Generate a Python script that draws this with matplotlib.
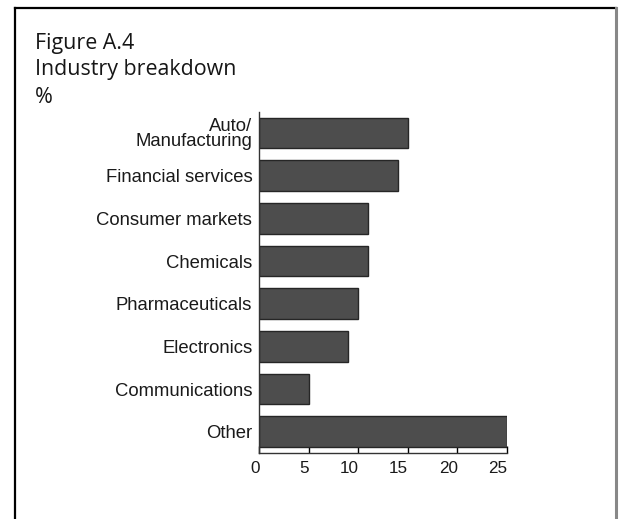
import matplotlib
matplotlib.use("Agg")
import matplotlib.pyplot as plt
from matplotlib.lines import Line2D
from matplotlib.transforms import ScaledTranslation

# Industry shares (%)
categories = ["Auto/\nManufacturing", "Financial services", "Consumer markets",
              "Chemicals", "Pharmaceuticals", "Electronics", "Communications", "Other"]
shares = [15, 14, 11, 11, 10, 9, 5, 25]
x_ticks = [0, 5, 10, 15, 20, 25]

title_font = ["Open Sans", "DejaVu Sans"]
label_font = ["Liberation Sans", "DejaVu Sans"]

W, H = 622, 519
fig = plt.figure(figsize=(W / 100, H / 100), dpi=100)
fig.patch.set_facecolor("white")


def fx(px):
    return px / W


def fy(py):
    return 1 - py / H


# panel border: left and top black, right grey, open at the bottom
fig.add_artist(Line2D([fx(15), fx(15)], [fy(8), 0], color="black", lw=1.6,
                      transform=fig.transFigure))
fig.add_artist(Line2D([fx(15), fx(616)], [fy(8), fy(8)], color="black", lw=1.6,
                      transform=fig.transFigure))
fig.add_artist(Line2D([fx(616), fx(616)], [fy(8), 0], color="#888888", lw=2.2,
                      transform=fig.transFigure))

for text, ypx in [("Figure A.4", 43), ("Industry breakdown", 69), ("%", 98)]:
    fig.text(fx(35), fy(ypx), text, fontsize=15.4, family=title_font,
             va="center", ha="left", color="#161616")

left, right = 259.3, 506.7
top, bottom = 111.7, 453.0
ax = fig.add_axes([fx(left), fy(bottom), fx(right) - fx(left), (bottom - top) / H])

ypos = list(range(len(categories)))
ax.barh(ypos, shares, height=0.72, color="#4d4d4d", edgecolor="#262626",
        linewidth=1.0, zorder=2)
ax.set_xlim(0, 25)
ax.set_ylim(len(categories) - 0.5, -0.5)

ax.set_yticks(ypos)
ax.set_yticklabels(categories, family=label_font, fontsize=13.3, linespacing=0.85,
                   color="#1a1a1a")
ax.tick_params(axis="y", length=0, pad=5)

ax.set_xticks(x_ticks)
ax.set_xticklabels([str(t) for t in x_ticks], family=label_font, fontsize=12.3,
                   color="#1a1a1a")
ax.tick_params(axis="x", direction="in", length=5, width=1, pad=6, color="black")
shift = ScaledTranslation(0.5 / 100, 0, fig.dpi_scale_trans)
for lbl in ax.get_xticklabels():
    lbl.set_horizontalalignment("right")
    lbl.set_transform(lbl.get_transform() + shift)

for s in ["top", "right"]:
    ax.spines[s].set_visible(False)
ax.spines["left"].set_linewidth(1)
ax.spines["bottom"].set_linewidth(1)
ax.spines["left"].set_color("#333333")
ax.spines["bottom"].set_color("#333333")

fig.savefig("out.png", dpi=100)
